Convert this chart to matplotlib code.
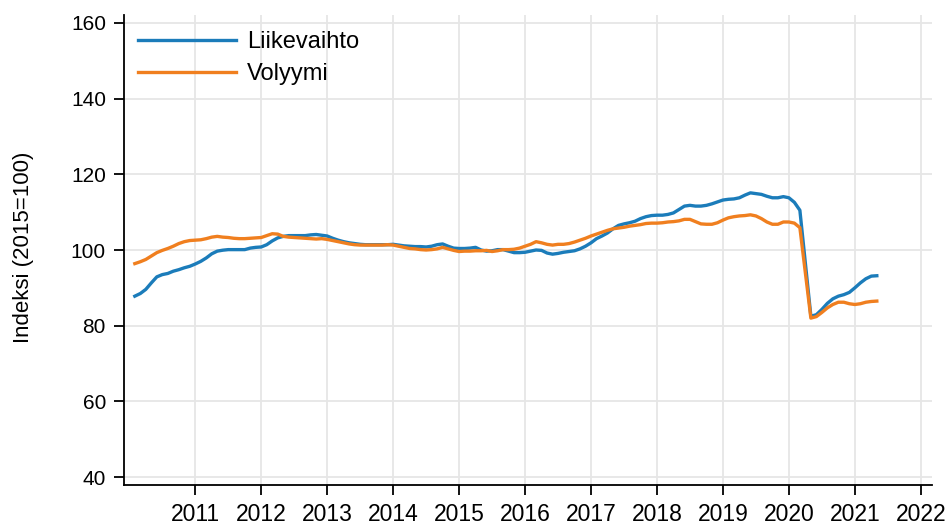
import numpy as np
import matplotlib.pyplot as plt

plt.rcParams['font.family'] = ['Liberation Sans', 'DejaVu Sans']

# kuukausittaiset indeksit 2010M01 - 2021M04
liikevaihto = [
    87.8, 88.5, 89.6, 91.3, 92.9, 93.5, 93.8, 94.4, 94.8, 95.3, 95.7, 96.3,          # 2010
    97.0, 97.9, 99.0, 99.7, 99.95, 100.1, 100.1, 100.1, 100.1, 100.5, 100.7, 100.8,  # 2011
    101.4, 102.4, 103.2, 103.6, 103.8, 103.8, 103.8, 103.8, 104.0, 104.1, 103.9, 103.7,  # 2012
    103.1, 102.6, 102.2, 101.9, 101.7, 101.5, 101.4, 101.4, 101.4, 101.4, 101.4, 101.5,  # 2013
    101.3, 101.1, 101.0, 100.9, 100.9, 100.8, 101.0, 101.4, 101.6, 101.0, 100.5, 100.4,  # 2014
    100.4, 100.5, 100.7, 100.0, 99.7, 99.8, 100.1, 100.1, 99.7, 99.3, 99.3, 99.4,        # 2015
    99.7, 100.0, 99.9, 99.2, 98.9, 99.1, 99.4, 99.6, 99.8, 100.3, 101.0, 101.9,          # 2016
    103.0, 103.7, 104.5, 105.6, 106.5, 106.9, 107.2, 107.6, 108.3, 108.8, 109.1, 109.2,  # 2017
    109.2, 109.4, 109.8, 110.7, 111.6, 111.8, 111.6, 111.6, 111.8, 112.2, 112.7, 113.2,  # 2018
    113.4, 113.5, 113.8, 114.5, 115.1, 114.9, 114.7, 114.2, 113.8, 113.8, 114.1, 113.8,  # 2019
    112.6, 110.5, 96.5, 82.5, 82.9, 84.3, 85.9, 87.1, 87.8, 88.2, 88.8, 90.0,            # 2020
    91.3, 92.4, 93.1, 93.2,                                                               # 2021
]
volyymi = [
    96.4, 96.9, 97.5, 98.4, 99.3, 99.9, 100.4, 101.0, 101.7, 102.2, 102.5, 102.6,     # 2010
    102.7, 103.0, 103.4, 103.6, 103.4, 103.3, 103.1, 103.0, 103.0, 103.1, 103.2, 103.3,  # 2011
    103.8, 104.3, 104.2, 103.6, 103.4, 103.3, 103.2, 103.1, 103.0, 102.9, 103.0, 102.8,  # 2012
    102.5, 102.2, 101.9, 101.6, 101.4, 101.3, 101.3, 101.3, 101.3, 101.3, 101.4, 101.3,  # 2013
    101.0, 100.7, 100.4, 100.3, 100.1, 100.0, 100.1, 100.3, 100.7, 100.3, 99.9, 99.6,    # 2014
    99.7, 99.7, 99.8, 99.8, 99.9, 99.6, 99.8, 100.1, 100.1, 100.2, 100.5, 101.0,         # 2015
    101.5, 102.2, 101.9, 101.5, 101.3, 101.5, 101.5, 101.7, 102.1, 102.6, 103.1, 103.7,  # 2016
    104.2, 104.7, 105.2, 105.6, 105.8, 106.0, 106.3, 106.5, 106.7, 107.0, 107.1, 107.1,  # 2017
    107.2, 107.4, 107.5, 107.7, 108.1, 108.1, 107.5, 106.9, 106.8, 106.8, 107.2, 107.9,  # 2018
    108.5, 108.8, 109.0, 109.1, 109.3, 109.0, 108.3, 107.4, 106.8, 106.8, 107.4, 107.4,  # 2019
    107.1, 105.9, 94.0, 82.0, 82.4, 83.5, 84.7, 85.6, 86.2, 86.2, 85.8, 85.6,            # 2020
    85.8, 86.2, 86.4, 86.5,                                                               # 2021
]
alku_vuosi = 2010
vuodet = list(range(2011, 2023))
y_ticks = [40, 60, 80, 100, 120, 140, 160]

# aika-akseli: vuosi + kuukausi/12
kk = np.arange(len(liikevaihto))
x = alku_vuosi + (kk + 1) / 12

fig = plt.figure(figsize=(9.52, 5.30), dpi=100)
ax = fig.add_axes([0.1303, 0.0849, 0.8487, 0.8868])

ax.plot(x, liikevaihto, color='#1b7cba', lw=2.4, label='Liikevaihto')
ax.plot(x, volyymi, color='#f07f1f', lw=2.4, label='Volyymi')

ax.set_xlim(2009.92, 2022.17)
ax.set_ylim(37.9, 162.1)
ax.set_xticks(vuodet)
ax.set_yticks(y_ticks)
ax.grid(True, color='#e6e6e6', lw=1.3)
ax.set_axisbelow(True)

for s in ['top', 'right']:
    ax.spines[s].set_visible(False)
for s in ['left', 'bottom']:
    ax.spines[s].set_linewidth(1.3)

ax.tick_params(axis='both', length=7, width=1.3, direction='out')
ax.tick_params(axis='x', labelsize=16.5, pad=6)
ax.tick_params(axis='y', labelsize=15, pad=6)

ax.set_ylabel('Indeksi (2015=100)', fontsize=16)
ax.yaxis.set_label_coords(-0.112, 0.505)

ax.legend(loc='upper left', bbox_to_anchor=(138 / 952, 1 - 31 / 530),
          bbox_transform=fig.transFigure, frameon=False, fontsize=17,
          handlelength=4.15, handletextpad=0.47, labelspacing=0.42,
          borderpad=0, borderaxespad=0)

fig.savefig('out.png', dpi=100)
